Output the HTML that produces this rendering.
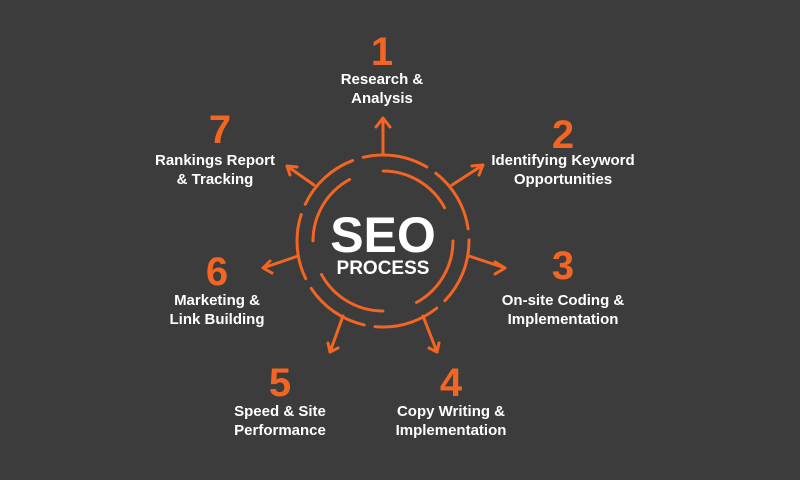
<!DOCTYPE html>
<html><head><style>
body{margin:0;width:800px;height:480px;background:#3c3c3c;font-family:"Liberation Sans",sans-serif;overflow:hidden;position:relative}
.n{position:absolute;color:#f26522;font-weight:bold;font-size:40px;text-align:center;width:200px;line-height:40px}
.t{position:absolute;color:#fff;font-size:15px;font-weight:bold;text-align:center;width:200px;line-height:19px}
</style></head><body>
<svg width="800" height="480" style="position:absolute;left:0;top:0">
<g fill="none" stroke="#f26522" stroke-width="3" stroke-linecap="round" stroke-linejoin="round">
<circle cx="383" cy="241" r="86" stroke-dasharray="66 11"/>
<circle cx="383" cy="241" r="70" stroke-dasharray="75 35"/>
<path d="M383 155 V118 M376 127 L383 118 L390 127"/>
<path d="M452 185 L483 165 M472 166 L483 165 L479 175"/>
<path d="M469 256 L505 268 M495 262 L505 268 L495 274"/>
<path d="M423 316 L437 352 M429 348 L437 352 L439 343"/>
<path d="M343 316 L330 352 M328 343 L330 352 L338 348"/>
<path d="M298 256 L263 268 M270 261 L263 268 L272 273"/>
<path d="M314 185 L287 166 M290 175 L287 166 L297 167"/>
</g>
<text x="383" y="252" fill="#fff" font-family="Liberation Sans" font-weight="bold" font-size="50" text-anchor="middle">SEO</text>
<text x="383" y="274" fill="#fff" font-family="Liberation Sans" font-weight="bold" font-size="19" text-anchor="middle">PROCESS</text>
</svg>
<div class="n" style="left:282px;top:32px">1</div><div class="t" style="left:282px;top:70px">Research &amp;<br>Analysis</div>
<div class="n" style="left:463px;top:115px">2</div><div class="t" style="left:463px;top:151px">Identifying Keyword<br>Opportunities</div>
<div class="n" style="left:463px;top:246px">3</div><div class="t" style="left:463px;top:291px">On-site Coding &amp;<br>Implementation</div>
<div class="n" style="left:351px;top:363px">4</div><div class="t" style="left:351px;top:402px">Copy Writing &amp;<br>Implementation</div>
<div class="n" style="left:180px;top:363px">5</div><div class="t" style="left:180px;top:402px">Speed &amp; Site<br>Performance</div>
<div class="n" style="left:117px;top:252px">6</div><div class="t" style="left:117px;top:291px">Marketing &amp;<br>Link Building</div>
<div class="n" style="left:120px;top:110px">7</div><div class="t" style="left:115px;top:151px">Rankings Report<br>&amp; Tracking</div>
</body></html>
